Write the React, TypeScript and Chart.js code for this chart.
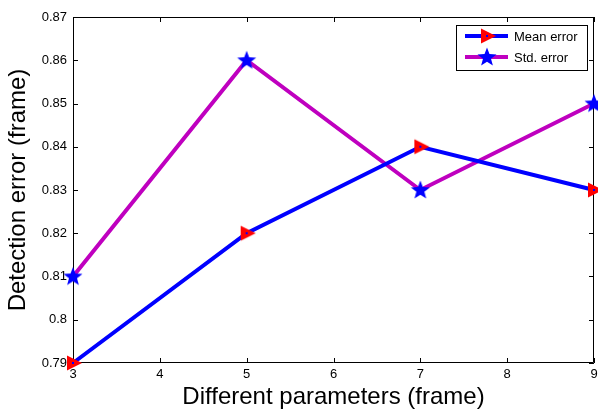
import React, { useEffect, useRef } from "react";
import { Chart, registerables } from "chart.js";

Chart.register(...registerables);

const xValues = [3, 5, 7, 9];
const meanError = [0.79, 0.82, 0.84, 0.83];
const stdError = [0.81, 0.86, 0.83, 0.85];
const seriesLabels = ["Mean error", "Std. error"];
const xTitle = "Different parameters (frame)";
const yTitle = "Detection error (frame)";

const FONT = "'Liberation Sans', Arial, Helvetica, sans-serif";
const BLUE = "#0000ff";
const MAGENTA = "rgb(191,0,191)";
const RED = "#ff0000";

function makeTriangle(): HTMLCanvasElement {
  const c = document.createElement("canvas");
  c.width = 22;
  c.height = 22;
  const ctx = c.getContext("2d")!;
  const cx = 11, cy = 11;
  ctx.beginPath();
  ctx.moveTo(cx - 6, cy - 7.5);
  ctx.lineTo(cx - 6, cy + 7.5);
  ctx.lineTo(cx + 9, cy);
  ctx.closePath();
  ctx.fillStyle = RED;
  ctx.fill();
  ctx.fillStyle = BLUE;
  ctx.fillRect(cx - 1, cy - 1, 2, 2);
  return c;
}

function makeStar(): HTMLCanvasElement {
  const c = document.createElement("canvas");
  c.width = 22;
  c.height = 22;
  const ctx = c.getContext("2d")!;
  const cx = 11, cy = 11.5;
  const R = 10, r = 4.2;
  ctx.beginPath();
  for (let i = 0; i < 10; i++) {
    const rad = i % 2 === 0 ? R : r;
    const a = -Math.PI / 2 + (i * Math.PI) / 5;
    const px = cx + rad * Math.cos(a);
    const py = cy + rad * Math.sin(a);
    if (i === 0) ctx.moveTo(px, py);
    else ctx.lineTo(px, py);
  }
  ctx.closePath();
  ctx.fillStyle = BLUE;
  ctx.fill();
  return c;
}

const framePlugin = {
  id: "matlabFrame",
  beforeDatasetsDraw(chart: any) {
    const { ctx, chartArea } = chart;
    const { left, right, top, bottom } = chartArea;
    ctx.save();
    ctx.strokeStyle = "#000";
    ctx.lineWidth = 1;
    ctx.beginPath();
    ctx.rect(left + 0.5, top + 0.5, right - left - 1, bottom - top - 1);
    ctx.stroke();
    const tl = 5;
    const xs = chart.scales.x;
    const ys = chart.scales.y;
    ctx.beginPath();
    xs.ticks.forEach((t: any) => {
      const px = Math.round(xs.getPixelForValue(t.value)) + 0.5;
      ctx.moveTo(px, bottom);
      ctx.lineTo(px, bottom - tl);
      ctx.moveTo(px, top);
      ctx.lineTo(px, top + tl);
    });
    ys.ticks.forEach((t: any) => {
      const py = Math.round(ys.getPixelForValue(t.value)) + 0.5;
      ctx.moveTo(left, py);
      ctx.lineTo(left + tl, py);
      ctx.moveTo(right, py);
      ctx.lineTo(right - tl, py);
    });
    ctx.stroke();
    ctx.restore();
  },
};

const legendPlugin = {
  id: "matlabLegend",
  afterDatasetsDraw(chart: any) {
    const { ctx, chartArea } = chart;
    const boxR = chartArea.right - 6;
    const boxT = chartArea.top + 8;
    const boxW = 132;
    const boxH = 46;
    const boxL = boxR - boxW;
    ctx.save();
    ctx.fillStyle = "#fff";
    ctx.fillRect(boxL, boxT, boxW, boxH);
    ctx.strokeStyle = "#000";
    ctx.lineWidth = 1;
    ctx.strokeRect(boxL + 0.5, boxT + 0.5, boxW - 1, boxH - 1);
    const rows = [boxT + 11, boxT + 32];
    chart.data.datasets.forEach((ds: any, i: number) => {
      const y = rows[i];
      ctx.strokeStyle = ds.borderColor;
      ctx.lineWidth = 4;
      ctx.beginPath();
      ctx.moveTo(boxL + 9, y);
      ctx.lineTo(boxL + 52, y);
      ctx.stroke();
      const img = ds.pointStyle as HTMLCanvasElement;
      ctx.drawImage(img, boxL + 31 - img.width / 2, y - img.height / 2);
      ctx.fillStyle = "#000";
      ctx.font = `13px ${FONT}`;
      ctx.textBaseline = "middle";
      ctx.textAlign = "left";
      ctx.fillText(ds.label, boxL + 58, y + 1);
    });
    ctx.restore();
  },
};

function fmt(v: number): string {
  return String(Number(v.toFixed(2)));
}

export default function App() {
  const ref = useRef<HTMLCanvasElement | null>(null);
  useEffect(() => {
    if (!ref.current) return;
    const tri = makeTriangle();
    const star = makeStar();
    const chart = new Chart(ref.current, {
      type: "line",
      data: {
        datasets: [
          {
            label: seriesLabels[0],
            data: xValues.map((x, i) => ({ x, y: meanError[i] })),
            borderColor: BLUE,
            backgroundColor: RED,
            borderWidth: 4,
            pointStyle: tri as any,
            pointRadius: 9,
            clip: false as any,
          },
          {
            label: seriesLabels[1],
            data: xValues.map((x, i) => ({ x, y: stdError[i] })),
            borderColor: MAGENTA,
            backgroundColor: BLUE,
            borderWidth: 4,
            pointStyle: star as any,
            pointRadius: 9,
            clip: false as any,
          },
        ],
      },
      options: {
        animation: false,
        responsive: false,
        devicePixelRatio: 1,
        layout: { autoPadding: false, padding: { top: 17, right: 4, left: 0, bottom: 0 } },
        plugins: {
          legend: { display: false },
          tooltip: { enabled: false },
        },
        scales: {
          x: {
            type: "linear",
            min: 3,
            max: 9,
            grid: { display: false, drawTicks: false, tickLength: 0 },
            border: { display: false },
            ticks: {
              stepSize: 1,
              color: "#000",
              font: { family: FONT, size: 13 },
              padding: 4,
              maxRotation: 0,
              callback: (v: any) => fmt(Number(v)),
            },
            title: {
              display: true,
              text: xTitle,
              color: "#000",
              font: { family: FONT, size: 24 },
              padding: { top: 0, bottom: 0 },
            },
            afterFit: (s: any) => {
              s.height = 49;
              s.paddingLeft = 0;
              s.paddingRight = 0;
            },
          },
          y: {
            type: "linear",
            min: 0.79,
            max: 0.87,
            grid: { display: false, drawTicks: false, tickLength: 0 },
            border: { display: false },
            ticks: {
              stepSize: 0.01,
              color: "#000",
              font: { family: FONT, size: 13 },
              padding: 6,
              callback: (v: any) => fmt(Number(v)),
            },
            title: {
              display: true,
              text: yTitle,
              color: "#000",
              font: { family: FONT, size: 24 },
              padding: { top: 4, bottom: 0 },
            },
            afterFit: (s: any) => {
              s.width = 73;
              s.paddingTop = 0;
              s.paddingBottom = 0;
            },
          },
        },
      },
      plugins: [framePlugin, legendPlugin],
    });
    return () => chart.destroy();
  }, []);
  return (
    <div style={{ position: "fixed", left: 0, top: 0, width: 598, height: 412, background: "#fff" }}>
      <canvas ref={ref} width={598} height={412} style={{ display: "block" }} />
    </div>
  );
}
